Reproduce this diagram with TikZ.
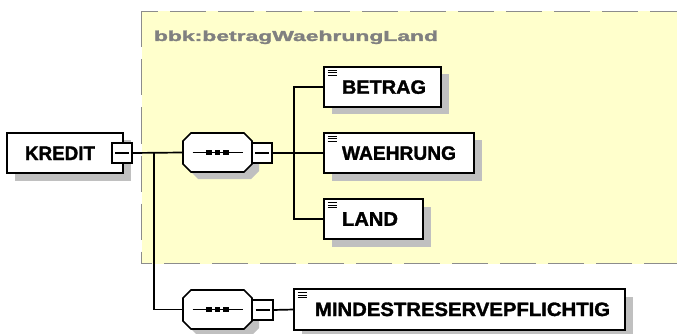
\documentclass[tikz,border=0pt]{standalone}
\usepackage{fontspec}
\setmainfont{Liberation Sans}
\newfontfamily\heavyfont{Liberation Sans Bold}[FakeBold=1.6]
\usepackage{graphicx}
\usetikzlibrary{shadows}
\definecolor{yel}{HTML}{FFFFCC}
\definecolor{shadowc}{HTML}{C0C0C0}
\definecolor{bordergrey}{HTML}{8C8C8C}
\definecolor{titlegrey}{HTML}{808080}
\newcommand\fitt[2]{\resizebox{#1}{13.5pt}{\heavyfont #2}}
\newcommand\octapath[2]{(#1-34.5,#2-11.5) -- (#1-26.5,#2-19.5) -- (#1+26.5,#2-19.5) -- (#1+34.5,#2-11.5) -- (#1+34.5,#2+11.5) -- (#1+26.5,#2+19.5) -- (#1-26.5,#2+19.5) -- (#1-34.5,#2+11.5) -- cycle}
\begin{document}
\begin{tikzpicture}[x=1pt,y=-1pt,
  conn/.style={line width=1.7pt,black},
  elbox/.style={draw=black,line width=1.8pt,fill=white,inner sep=0pt,outer sep=0pt,
     drop shadow={shadow xshift=7.5pt,shadow yshift=-7.5pt,fill=shadowc,opacity=1}},
  minusbox/.style={draw=black,line width=1.7pt,fill=white,inner sep=0pt,outer sep=0pt,minimum width=20pt,minimum height=20pt},
  seqbox/.style={draw=none,inner sep=0pt,outer sep=0pt,minimum width=69pt,minimum height=39pt},
  octa/.style={draw=black,line width=1.7pt,fill=white},
  lbl/.style={inner sep=0pt,outer sep=0pt,anchor=base west},
  yborder/.style={draw=bordergrey,line width=1.6pt,dash pattern=on 36pt off 12pt}
]
\useasboundingbox (0,0) rectangle (677,334);
\fill[white] (0,0) rectangle (677,334);
% group box
\fill[yel] (141.5,11.5) rectangle (677,263.5);
\draw[yborder,dash phase=19.5pt] (141.5,11.5) -- (677,11.5);
\draw[yborder,dash phase=25.5pt] (141.5,263.5) -- (677,263.5);
\draw[yborder,dash phase=0pt] (141.5,11.5) -- (141.5,263.5);
\node[lbl,text=titlegrey] (title) at (154,41) {\resizebox{284pt}{10.5pt}{\heavyfont bbk:betragWaehrungLand}};

% KREDIT
\node[elbox,minimum width=116pt,minimum height=40pt] (kredit) at (65,153) {};
\node[lbl] (tkredit) at (25,160) {\fitt{70pt}{KREDIT}};
\node[minusbox] (kminus) at (122,153) {};
\draw[conn] ([xshift=-7pt]kminus.center) -- ([xshift=7pt]kminus.center);

% junction coordinates
\coordinate (j1) at (154,153);
\coordinate (j2) at (294,153);

% sequence 1
\node[seqbox] (seq1) at (217.5,152.5) {};
\fill[shadowc,shift={(7,7)}] \octapath{217.5}{152.5};
\draw[octa] \octapath{217.5}{152.5};
\draw[line width=1.5pt] ([xshift=-25pt]seq1.center) -- ([xshift=25pt]seq1.center);
\foreach \dx in {-8.5,0,8.5}
  \fill ([shift={(\dx-2.6,-2.6)}]seq1.center) rectangle ([shift={(\dx+2.6,2.6)}]seq1.center);
\node[minusbox] (s1minus) at (262,153) {};
\draw[conn] ([xshift=-7pt]s1minus.center) -- ([xshift=7pt]s1minus.center);

% sequence 2
\node[seqbox] (seq2) at (217.5,309.5) {};
\fill[shadowc,shift={(7,7)}] \octapath{217.5}{309.5};
\draw[octa] \octapath{217.5}{309.5};
\draw[line width=1.5pt] ([xshift=-25pt]seq2.center) -- ([xshift=25pt]seq2.center);
\foreach \dx in {-8.5,0,8.5}
  \fill ([shift={(\dx-2.6,-2.6)}]seq2.center) rectangle ([shift={(\dx+2.6,2.6)}]seq2.center);
\node[minusbox,minimum width=21pt] (s2minus) at (262.5,310) {};
\draw[conn] ([xshift=-7pt]s2minus.center) -- ([xshift=7pt]s2minus.center);

% elements
\node[elbox,minimum width=117pt,minimum height=40pt] (betrag) at (382.5,87) {};
\node[lbl] (tbetrag) at (342,93.75) {\fitt{84pt}{BETRAG}};
\node[elbox,minimum width=150pt,minimum height=40pt] (waehrung) at (399,153) {};
\node[lbl] (twaehrung) at (342,159.75) {\fitt{114pt}{WAEHRUNG}};
\node[elbox,minimum width=99pt,minimum height=40pt] (land) at (373.5,219) {};
\node[lbl] (tland) at (342,225.75) {\fitt{56pt}{LAND}};
\node[elbox,minimum width=331pt,minimum height=41pt] (mindest) at (459.5,309.5) {};
\node[lbl] (tmindest) at (315,316) {\fitt{295pt}{MINDESTRESERVEPFLICHTIG}};

% element icons
\foreach \n in {betrag,waehrung,land,mindest}{
  \foreach \dy in {3.5,6,8.5}
    \draw[line width=1pt] ([shift={(3.5,\dy)}]\n.north west) -- ([shift={(13,\dy)}]\n.north west);
}

% connectors
\draw[conn] (kminus.east) -- (seq1.west);
\draw[conn] (j1) |- (seq2.west);
\draw[conn] (s1minus.east) -- (waehrung.west);
\draw[conn] (betrag.west) -- (j2 |- betrag.west) -- (j2 |- land.west) -- (land.west);
\draw[conn] (s2minus.east) -- (mindest.west);
\end{tikzpicture}
\end{document}
